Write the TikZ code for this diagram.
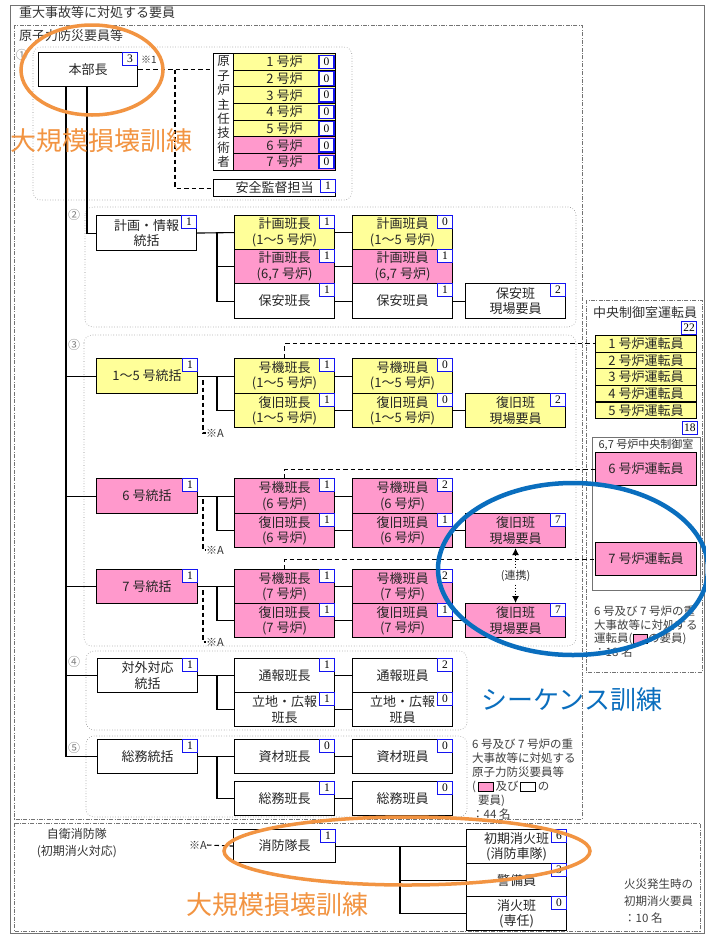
\documentclass[tikz,border=0pt]{standalone}
\usepackage{fontspec}
\setmainfont{Noto Sans CJK JP}
\newfontfamily\numf{Liberation Serif}
\usetikzlibrary{arrows.meta}
\definecolor{yel}{RGB}{255,255,153}
\definecolor{pnk}{RGB}{255,153,204}
\definecolor{cblue}{RGB}{20,20,240}
\definecolor{orng}{RGB}{242,148,66}
\definecolor{blu}{RGB}{10,110,190}
\newcommand\pinkbx{{\setlength\fboxsep{0pt}\setlength\fboxrule{0.8pt}\fcolorbox{black}{pnk}{\rule{0pt}{8pt}\hspace{14pt}}}}
\newcommand\whitebx{{\setlength\fboxsep{0pt}\setlength\fboxrule{0.8pt}\fcolorbox{black}{white}{\rule{0pt}{8pt}\hspace{14pt}}}}
\newcommand\bxn[8]{%
 \node[bx, fill=#6, minimum width=#4pt, minimum height=#5pt] (#1) at (#2,#3) {#7};
 \node[cnt] (#1c) at (#1.north east) {#8};}
\begin{document}
\begin{tikzpicture}[x=1pt,y=-1pt,
 bx/.style={draw=black, line width=1.1pt, rectangle, inner sep=0pt, anchor=north west, align=center, font=\fontsize{13}{15.5}\selectfont, text=black!85},
 cnt/.style={draw=cblue, fill=white, line width=1.2pt, inner sep=0pt, minimum width=15pt, minimum height=13pt, font=\numf\fontsize{11.5}{11.5}\selectfont, anchor=north east},
 ln/.style={line width=1.1pt},
 dsh/.style={line width=1.1pt, dash pattern=on 4.5pt off 3pt},
 grp/.style={draw=black!45, line width=0.6pt, dotted, rounded corners=8pt},
 dd/.style={draw=black!55, line width=0.6pt, dash pattern=on 4pt off 1.5pt on 0.8pt off 1.5pt},
 lbl/.style={inner sep=0pt, font=\fontsize{13}{15}\selectfont, text=black!80},
 circ/.style={inner sep=0pt, font=\fontsize{12}{12}\selectfont, text=black!50},
 note/.style={inner sep=0pt, align=left, font=\fontsize{11.5}{13.5}\selectfont, text=black!75},
 sm/.style={inner sep=0pt, font=\fontsize{11}{11}\selectfont, text=black!80},
 ann/.style={inner sep=0pt, font=\fontsize{26}{26}\selectfont}]
\useasboundingbox (0,0) rectangle (705,935);
\fill[white] (0,0) rectangle (705,935);
% frames
\draw[black!55, line width=0.7pt] (10,5) rectangle (704,933);
\draw[dd] (14,25) rectangle (582,819);
\draw[dd] (586,300) rectangle (702,672);
\draw[dd] (14,823) rectangle (700,931);
\draw[grp] (33,47) rectangle (352,200);
\draw[grp] (85,207) rectangle (576,327);
\draw[grp] (84,335) rectangle (576,646);
\draw[grp] (86,651) rectangle (467,730);
\draw[grp] (86,736) rectangle (467,817);
\node[lbl, anchor=west] (ttl) at (19,13) {重大事故等に対処する要員};
\node[lbl, anchor=west] (ttl2) at (19,36) {原子力防災要員等};
\node[circ] (n1) at (22,55) {①};
\node[circ] (n2) at (74,215) {②};
\node[circ] (n3) at (74,345) {③};
\node[circ] (n4) at (74,662) {④};
\node[circ] (n5) at (74,748) {⑤};
% section 1
\bxn{hq}{38}{52}{99}{34}{white}{本部長}{3}
\node[sm, font=\fontsize{10}{10}\selectfont] (k1) at (149,60) {※1};
\node[bx, minimum width=20pt, minimum height=116.7pt, font=\fontsize{12.5}{14.4}\selectfont] (rcol) at (213,53) {原\\子\\炉\\主\\任\\技\\術\\者};
\foreach \i/\c in {1/yel,2/yel,3/yel,4/yel,5/yel,6/pnk,7/pnk}{
 \node[bx, fill=\c, minimum width=102pt, minimum height=16.67pt] (r\i) at (233,{53+16.67*(\i-1)}) {\i\ 号炉};
 \node[cnt, anchor=east, minimum height=13.5pt] (rc\i) at ([xshift=-1.5pt]r\i.east) {0};
}
\bxn{anz}{213}{179}{122}{17}{white}{安全監督担当}{1}
\draw[dsh] (hq.east) -- (hq.east -| rcol.west);
\coordinate (dj) at (175,0);
\draw[dsh] (dj |- hq.east) |- (anz.west);
% trunk
\coordinate (tA) at (66,0);
\coordinate (tB) at (87,0);
\coordinate (j2) at (217,0);
% section 2
\bxn{s2}{96}{215}{100}{35}{white}{計画・情報\\統括}{1}
\bxn{p1}{234}{215}{100}{34}{yel}{計画班長\\(1～5 号炉)}{1}
\bxn{p2}{234}{249}{100}{34}{pnk}{計画班長\\(6,7 号炉)}{1}
\bxn{p3}{234}{283}{100}{35}{white}{保安班長}{1}
\bxn{q1}{352}{215}{100}{34}{yel}{計画班員\\(1～5 号炉)}{0}
\bxn{q2}{352}{249}{100}{34}{pnk}{計画班員\\(6,7 号炉)}{1}
\bxn{q3}{352}{283}{100}{35}{white}{保安班員}{1}
\bxn{q4}{465}{283}{100}{35}{white}{保安班\\現場要員}{2}
\draw[ln] (s2.east) -- (p1.west);
\draw[ln] (j2 |- s2.east) |- (p3.west);
\draw[ln] (j2 |- p2.west) -- (p2.west);
\draw[ln] (p1.east) -- (q1.west);
\draw[ln] (p2.east) -- (q2.west);
\draw[ln] (p3.east) -- (q3.west);
\draw[ln] (q3.east) -- (q4.west);
% section 3: 1-5
\bxn{g15}{96}{358}{101}{35}{yel}{1～5 号統括}{1}
\bxn{k15}{234}{358}{100}{35}{yel}{号機班長\\(1～5 号炉)}{1}
\bxn{f15}{234}{393}{100}{34}{yel}{復旧班長\\(1～5 号炉)}{1}
\bxn{km15}{352}{358}{100}{35}{yel}{号機班員\\(1～5 号炉)}{0}
\bxn{fm15}{352}{393}{100}{34}{yel}{復旧班員\\(1～5 号炉)}{0}
\bxn{fg15}{465}{393}{100}{34}{yel}{復旧班\\現場要員}{2}
% 6
\bxn{g6}{96}{478}{101}{35}{pnk}{6 号統括}{1}
\bxn{k6}{234}{478}{100}{35}{pnk}{号機班長\\(6 号炉)}{1}
\bxn{f6}{234}{513}{100}{34}{pnk}{復旧班長\\(6 号炉)}{1}
\bxn{km6}{352}{478}{100}{35}{pnk}{号機班員\\(6 号炉)}{2}
\bxn{fm6}{352}{513}{100}{34}{pnk}{復旧班員\\(6 号炉)}{1}
\bxn{fg6}{465}{513}{100}{34}{pnk}{復旧班\\現場要員}{7}
% 7
\bxn{g7}{96}{569}{101}{34}{pnk}{7 号統括}{1}
\bxn{k7}{234}{569}{100}{34}{pnk}{号機班長\\(7 号炉)}{1}
\bxn{f7}{234}{603}{100}{34}{pnk}{復旧班長\\(7 号炉)}{1}
\bxn{km7}{352}{569}{100}{34}{pnk}{号機班員\\(7 号炉)}{2}
\bxn{fm7}{352}{603}{100}{34}{pnk}{復旧班員\\(7 号炉)}{1}
\bxn{fg7}{465}{603}{100}{34}{pnk}{復旧班\\現場要員}{7}
\foreach \s in {15,6,7}{
 \draw[ln] (g\s.east) -- (k\s.west);
 \draw[ln] (j2 |- g\s.east) |- (f\s.west);
 \draw[ln] (k\s.east) -- (km\s.west);
 \draw[ln] (f\s.east) -- (fm\s.west);
 \draw[ln] (fm\s.east) -- (fg\s.west);
}
\node[sm, anchor=west] (sa1) at (206,433) {※A};
\node[sm, anchor=west] (sa2) at (206,550) {※A};
\node[sm, anchor=west] (sa3) at (206,642) {※A};
\coordinate (a1) at (203,380);
\coordinate (a2) at (203,499);
\coordinate (a3) at (203,590);
\draw[dsh] (a1) |- (sa1.west);
\draw[dsh] (a2) |- (sa2.west);
\draw[dsh] (a3) |- (sa3.west);
% right column
\node[lbl] (cc) at (645,313) {中央制御室運転員};
\foreach \i in {1,...,5}{
 \node[bx, fill=yel, minimum width=101pt, minimum height=16.6pt] (op\i) at (595,{335+16.6*(\i-1)}) {\i\ 号炉運転員};
}
\node[cnt, anchor=south east] (c22) at (op1.north east) {22};
\node[cnt, anchor=south east] (c18) at (698,435) {18};
\draw[black!55, line width=0.8pt] (592,437) rectangle (700,590);
\node[lbl, font=\fontsize{11}{11}\selectfont] (cc2) at (646,445) {6,7 号炉中央制御室};
\node[bx, fill=pnk, minimum width=101pt, minimum height=33pt] (op6) at (595,452) {6 号炉運転員};
\node[bx, fill=pnk, minimum width=101pt, minimum height=33pt] (op7) at (595,542) {7 号炉運転員};
\node[note, anchor=north west] (n18) at (594,606) {6 号及び 7 号炉の重\\大事故等に対処する\\運転員(\pinkbx の要員)\\：18 名};
\draw[dsh] (k15.north) |- (op1.west);
\draw[dsh] (k6.north) |- (op6.west);
\draw[dsh] (k7.north) |- (op7.west);
\draw[line width=1pt, dotted, {Latex[length=7pt,width=7pt]}-{Latex[length=7pt,width=7pt]}] (fg6.south) -- node[fill=white, inner sep=1.5pt, font=\fontsize{11}{11}\selectfont, text=black!80] (rk) {(連携)} (fg7.north);
% section 4
\bxn{t4}{97}{658}{100}{34}{white}{対外対応\\統括}{1}
\bxn{tb1}{234}{658}{100}{34}{white}{通報班長}{1}
\bxn{tb2}{234}{692}{100}{34}{white}{立地・広報\\班長}{1}
\bxn{tm1}{352}{658}{100}{34}{white}{通報班員}{2}
\bxn{tm2}{352}{692}{100}{34}{white}{立地・広報\\班員}{0}
\draw[ln] (t4.east) -- (tb1.west);
\draw[ln] (j2 |- t4.east) |- (tb2.west);
\draw[ln] (tb1.east) -- (tm1.west);
\draw[ln] (tb2.east) -- (tm2.west);
% section 5
\bxn{t5}{97}{739}{100}{34}{white}{総務統括}{1}
\bxn{sz1}{234}{739}{100}{34}{white}{資材班長}{0}
\bxn{sz2}{234}{781}{100}{34}{white}{総務班長}{1}
\bxn{sm1}{352}{739}{100}{34}{white}{資材班員}{0}
\bxn{sm2}{352}{781}{100}{34}{white}{総務班員}{0}
\draw[ln] (t5.east) -- (sz1.west);
\draw[ln] (j2 |- t5.east) |- (sz2.west);
\draw[ln] (sz1.east) -- (sm1.west);
\draw[ln] (sz2.east) -- (sm2.west);
\node[note, anchor=north west, font=\fontsize{11.5}{14}\selectfont] (n44) at (472,739) {6 号及び 7 号炉の重\\大事故等に対処する\\原子力防災要員等\\(\,\pinkbx\,及び\,\whitebx\,の\\\hspace{6pt}要員)\\：44 名};
% trunk lines
\draw[ln] (hq.south -| tA) |- (t5.west);
\draw[ln] (hq.south -| tB) |- (s2.west);
\foreach \n in {g15,g6,g7,t4}{\draw[ln] (tA |- \n.west) -- (\n.west);}
% bottom section
\node[lbl, align=center, font=\fontsize{12}{17}\selectfont] (jie) at (77,843) {自衛消防隊\\(初期消火対応)};
\bxn{fb}{233}{829}{102}{33}{white}{消防隊長}{1}
\bxn{fb1}{466}{829}{100}{34}{white}{初期消火班\\(消防車隊)}{6}
\bxn{fb2}{466}{863}{100}{33}{white}{警備員}{3}
\bxn{fb3}{466}{896}{100}{34}{white}{消火班\\(専任)}{0}
\node[sm, anchor=east] (sa4) at (207,845) {※A};
\draw[dsh] (sa4.east) -- (fb.west);
\coordinate (fj) at (400,0);
\draw[ln] (fb.east) -- (fb.east -| fb1.west);
\draw[ln] (fj |- fb.east) |- (fb3.west);
\draw[ln] (fj |- fb2.west) -- (fb2.west);
\node[note, anchor=north west, font=\fontsize{11.5}{17}\selectfont] (fire) at (624,879) {火災発生時の\\初期消火要員\\：10 名};
% annotations
\draw[orng, line width=3.5pt] (92,70) ellipse [x radius=71pt, y radius=45pt];
\node[ann, text=orng] (ann1) at (101,141) {大規模損壊訓練};
\draw[blu, line width=4.5pt] (573,569) ellipse [x radius=135pt, y radius=86pt];
\node[ann, text=blu] (ann2) at (572,700) {シーケンス訓練};
\draw[orng, line width=3.5pt] (407,851) ellipse [x radius=183pt, y radius=34pt];
\node[ann, text=orng] (ann3) at (277,905) {大規模損壊訓練};
\end{tikzpicture}
\end{document}
